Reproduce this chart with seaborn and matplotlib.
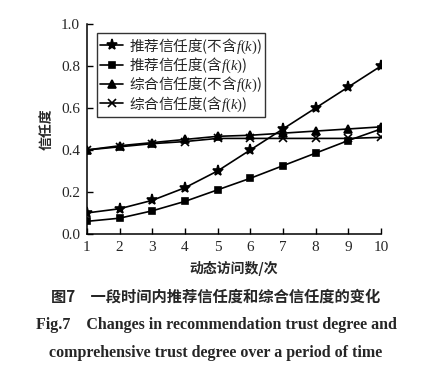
import numpy as np
import pandas as pd
import matplotlib
matplotlib.use("Agg")
import matplotlib.pyplot as plt
from matplotlib.font_manager import FontProperties
import seaborn as sns

# data
visits = [1, 2, 3, 4, 5, 6, 7, 8, 9, 10]
rec_no_f = [0.10, 0.12, 0.16, 0.22, 0.30, 0.40, 0.50, 0.60, 0.70, 0.80]
rec_f = [0.06, 0.075, 0.11, 0.155, 0.21, 0.265, 0.325, 0.385, 0.445, 0.50]
comp_no_f = [0.40, 0.42, 0.435, 0.45, 0.465, 0.47, 0.48, 0.49, 0.50, 0.51]
comp_f = [0.40, 0.415, 0.43, 0.44, 0.455, 0.455, 0.455, 0.455, 0.455, 0.46]

labels = ['推荐信任度(不含$f(k)$)', '推荐信任度(含$f(k)$)',
          '综合信任度(不含$f(k)$)', '综合信任度(含$f(k)$)']
markers = ['*', 's', '^', 'x']
msizes = [8, 5, 6, 6]

sns.set_style('ticks')
plt.rcParams['font.family'] = ['Liberation Serif', 'Noto Sans CJK SC']
plt.rcParams['mathtext.fontset'] = 'custom'
plt.rcParams['mathtext.it'] = 'Liberation Serif:italic'
plt.rcParams['mathtext.rm'] = 'Liberation Serif'
plt.rcParams['xtick.direction'] = 'in'
plt.rcParams['ytick.direction'] = 'in'

fig = plt.figure(figsize=(4.32, 3.69), dpi=100)
ax = fig.add_axes([0.201, 0.366, 0.681, 0.569])

series = [rec_no_f, rec_f, comp_no_f, comp_f]
for vals, lab, m, ms in zip(series, labels, markers, msizes):
    df = pd.DataFrame({'x': visits, 'y': vals})
    sns.lineplot(data=df, x='x', y='y', ax=ax, color='black', lw=1.2,
                 marker=m, markersize=ms, markeredgecolor='black',
                 markerfacecolor='black', mew=1.2, label=lab)

ax.set_xlim(1, 10)
ax.set_ylim(0, 1.0)
ax.set_xticks(visits)
ax.set_yticks(np.arange(0, 1.01, 0.2))
ax.set_yticklabels([f'{v:.1f}' for v in np.arange(0, 1.01, 0.2)])
ax.tick_params(labelsize=11, length=4, width=1, color='black', pad=5)
sns.despine(ax=ax)
for s in ['left', 'bottom']:
    ax.spines[s].set_color('black')
    ax.spines[s].set_linewidth(1.1)

ax.set_xlabel('动态访问数/次', fontsize=10, fontweight='bold',
              family=['Noto Sans CJK SC'], labelpad=5)
ax.set_ylabel('信任度', fontsize=10, fontweight='bold',
              family=['Noto Sans CJK SC'], labelpad=5)

leg_font = FontProperties(family='Noto Sans CJK SC', size=10.5)
leg = ax.legend(loc='upper left', bbox_to_anchor=(0.035, 0.955), prop=leg_font,
                frameon=True, fancybox=False, edgecolor='black',
                handlelength=1.6, borderpad=0.2, labelspacing=0.0,
                handletextpad=0.4, borderaxespad=0)
leg.get_frame().set_linewidth(1.0)

fig.text(0.5, 0.195, '图7　一段时间内推荐信任度和综合信任度的变化',
         ha='center', va='center', fontsize=11, fontweight='bold',
         family=['Noto Sans CJK SC'])
fig.text(0.5, 0.118, 'Fig.7    Changes in recommendation trust degree and',
         ha='center', va='center', fontsize=11.5, fontweight='bold',
         family=['Liberation Serif'])
fig.text(0.5, 0.043, 'comprehensive trust degree over a period of time',
         ha='center', va='center', fontsize=11.5, fontweight='bold',
         family=['Liberation Serif'])

fig.savefig('out.png', dpi=100)
